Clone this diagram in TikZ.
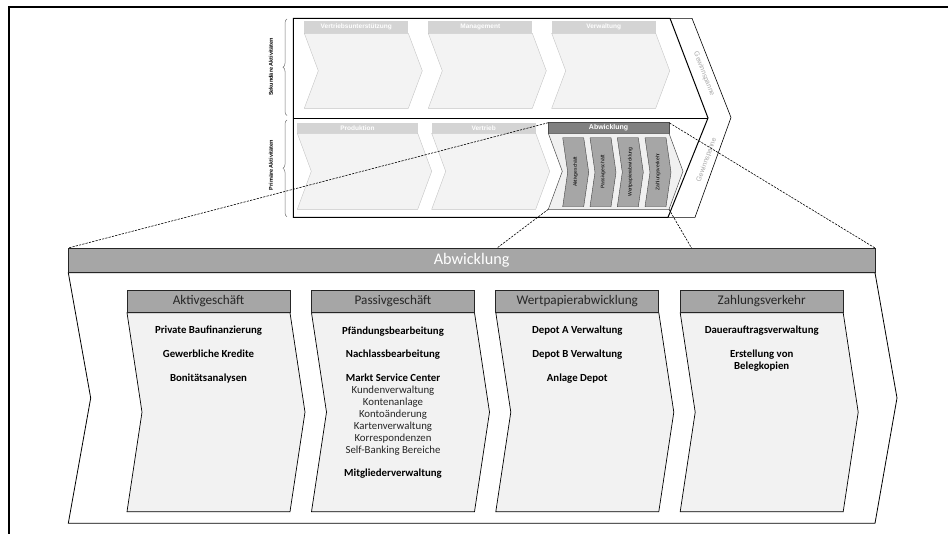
\documentclass[tikz,border=0pt]{standalone}
\usepackage{fontspec}
\setmainfont{Carlito}
\newfontfamily\arialf{Liberation Sans}
\usetikzlibrary{decorations.pathreplacing,calc}
\definecolor{hdrgray}{HTML}{A6A6A6}
\definecolor{bodygray}{HTML}{F2F2F2}
\definecolor{darkhdr}{HTML}{808080}
\definecolor{paleline}{HTML}{C4C4C4}
\definecolor{palefill}{HTML}{F3F3F3}
\definecolor{palehdr}{HTML}{D4D4D4}
\definecolor{margintext}{HTML}{A8A8A8}
\definecolor{hdrtext}{HTML}{262626}
\newcommand\mychev[5]{(#1,#2) -- (#3,#2) -- ({#3+#5},{(#2+#4)/2}) -- (#3,#4) -- (#1,#4) -- ({#1+#5},{(#2+#4)/2}) -- cycle}
\tikzset{
  palehead/.style={fill=palehdr,draw=none},
  palebody/.style={fill=palefill,draw=paleline,line width=0.4pt},
  paletext/.style={text=white,font=\arialf\bfseries\fontsize{6.5}{7}\selectfont},
  minibox/.style={fill=hdrgray,draw=black!75,line width=0.4pt},
  minitext/.style={rotate=90,font=\arialf\fontsize{5}{6}\selectfont},
  sidetext/.style={rotate=90,font=\arialf\bfseries\fontsize{5.5}{6}\selectfont},
  margtext/.style={text=margintext,font=\arialf\fontsize{7}{8}\selectfont},
  zoomline/.style={dash pattern=on 2.2pt off 1.2pt,line width=0.6pt},
  bighead/.style={fill=hdrgray,draw=black!85,line width=0.8pt},
  bigbody/.style={fill=bodygray,draw=black,line width=0.7pt},
  headtext/.style={text=hdrtext,font=\fontsize{13.2}{15}\selectfont},
  item/.style={font=\bfseries\fontsize{10.8}{12}\selectfont,text height=7pt,text depth=2pt,inner sep=0pt},
  subitem/.style={font=\fontsize{10.8}{12}\selectfont,text=black!85,text height=7pt,text depth=2pt,inner sep=0pt},
}
\begin{document}
\begin{tikzpicture}[x=1pt,y=-1pt]
\useasboundingbox (0,0) rectangle (948,533);
% outer frame
\draw[line width=2pt] (9,540) -- (9,6.5) -- (955,6.5);

% ---------- upper value chain ----------
% margin shape
\draw[line width=0.6pt] (670,18.3) -- (692,18.3) -- (731,117.5) -- (695,217.3) -- (668,217.3);
% secondary chevrons
\foreach \x/\t/\n in {304.3/Vertriebsunterst\"utzung/s1,428.3/Management/s2,551.7/Verwaltung/s3}{
  \fill[palehead] (\x,20.7) rectangle ({\x+104},33.3);
  \draw[palebody] \mychev{\x}{33.3}{\x+104}{108.3}{14};
  \node[paletext] (\n) at ({\x+52},27) {\t};
}
% primary chevrons
\foreach \x/\w/\t/\n in {297.3/120.4/Produktion/p1,431.7/104/Vertrieb/p2}{
  \fill[palehead] (\x,122.7) rectangle ({\x+\w},133.3);
  \draw[palebody] \mychev{\x}{133.3}{\x+\w}{209.3}{14};
  \node[paletext] (\n) at ({\x+\w/2},128) {\t};
}
% Abwicklung small
\draw[fill=darkhdr,draw=black!70,line width=0.5pt] (548.3,122.7) rectangle (669,133.3);
\draw[fill=black!6,draw=black!70,line width=0.5pt] \mychev{548.3}{133.3}{669}{209.3}{14};
\node[text=white,font=\arialf\bfseries\fontsize{7}{8}\selectfont] (sabw) at (608.6,128) {Abwicklung};
\foreach \x/\t/\n in {562.7/Aktivgesch\"aft/m1,590/Passivgesch\"aft/m2,617.3/Wertpapierabwicklung/m3,645/Zahlungsverkehr/m4}{
  \draw[minibox] \mychev{\x}{137.7}{\x+21}{206.7}{5};
  \node[minitext] (\n) at ({\x+13},172) {\t};
}
% main frame of value chain
\draw[line width=1pt] (293.3,18.3) -- (670,18.3) -- (708,118) -- (668,217.3) -- (293.3,217.3) -- cycle;
\draw[line width=1pt] (293.3,118) -- (708,118);
% margin texts
\node[margtext,rotate=-68.5] (g1) at (704,74) {Gewinnspanne};
\node[margtext,rotate=70] (g2) at (706.7,160) {Gewinnspanne};
% side labels and braces
\node[sidetext] (sek) at (271,67) {Sekund\"are Aktivit\"aten};
\node[sidetext] (pri) at (271,165) {Prim\"are Aktivit\"aten};
\draw[decorate,decoration={brace,amplitude=4pt},black!55,line width=0.5pt] (287,115.5) -- (287,19);
\draw[decorate,decoration={brace,amplitude=4pt},black!55,line width=0.5pt] (287,216.7) -- (287,120);

% zoom lines
\coordinate (sA) at (548.3,122.7);
\coordinate (sB) at (669.5,123);
\coordinate (sC) at (548.3,209.3);
\coordinate (sD) at (669,209.3);
\coordinate (bA) at (68.3,248);
\coordinate (bB) at (875,248);
\coordinate (bC) at (497,248);
\coordinate (bD) at (691.5,248);
\draw[zoomline] (sA) -- (bA);
\draw[zoomline] (sB) -- (bB);
\draw[zoomline] (sC) -- (bC);
\draw[zoomline] (sD) -- (bD);

% ---------- big Abwicklung ----------
\draw[fill=white,draw=black,line width=0.8pt] (68.3,272.7) -- (875,272.7) -- (897,398) -- (875,523.3) -- (68.3,523.3) -- (90.7,398) -- cycle;
\draw[bighead] (68.3,248) rectangle (875,272.7);
\node[text=white,font=\fontsize{16.2}{19}\selectfont] (ban) at (471.6,260.5) {Abwicklung};

\foreach \x/\t/\n in {127/Aktivgesch\"aft/h1,311.5/Passivgesch\"aft/h2,495.8/Wertpapierabwicklung/h3,680.2/Zahlungsverkehr/h4}{
  \draw[bigbody] \mychev{\x}{312.7}{\x+163}{511.7}{15};
  \draw[bighead] (\x,290) rectangle ({\x+163},312.7);
  \node[headtext] (\n) at ({\x+81.5},301.3) {\t};
}
% Aktivgeschaeft items
\node[item] (a1) at (208.5,331) {Private Baufinanzierung};
\node[item] (a2) at (208.5,355) {Gewerbliche Kredite};
\node[item] (a3) at (208.5,379) {Bonit\"atsanalysen};
% Passivgeschaeft items
\node[item] (b1) at (393,331.5) {Pf\"andungsbearbeitung};
\node[item] (b2) at (393,355) {Nachlassbearbeitung};
\node[item] (b3) at (393,379) {Markt Service Center};
\node[subitem] (b4) at (393,391) {Kundenverwaltung};
\node[subitem] (b5) at (393,403) {Kontenanlage};
\node[subitem] (b6) at (393,415) {Konto\"anderung};
\node[subitem] (b7) at (393,427) {Kartenverwaltung};
\node[subitem] (b8) at (393,439) {Korrespondenzen};
\node[subitem] (b9) at (393,451) {Self-Banking Bereiche};
\node[item] (b10) at (393,474) {Mitgliederverwaltung};
% Wertpapier items
\node[item] (c1) at (577.3,331) {Depot A Verwaltung};
\node[item] (c2) at (577.3,355) {Depot B Verwaltung};
\node[item] (c3) at (577.3,379) {Anlage Depot};
% Zahlungsverkehr items
\node[item] (d1) at (761.7,331) {Dauerauftragsverwaltung};
\node[item] (d2) at (761.7,355) {Erstellung von};
\node[item] (d3) at (761.7,367) {Belegkopien};
\end{tikzpicture}
\end{document}
